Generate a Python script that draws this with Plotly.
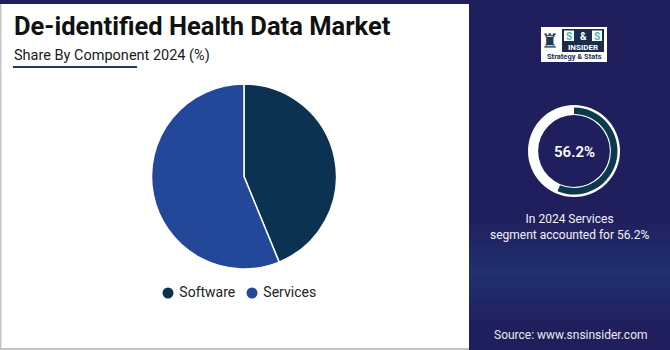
import plotly.graph_objects as go

# Market share by component, 2024 (%)
components = ["Software", "Services"]
shares = [43.8, 56.2]
component_colors = ["#0C3252", "#23489A"]

highlight_label = "Services"
highlight_value = 56.2

title_text = "De-identified Health Data Market"
subtitle_text = "Share By Component 2024 (%)"
source_text = "Source: www.snsinsider.com"

W, H = 670, 350


def px(x):
    return x / W


def py(y):
    return 1 - y / H


def circle_domain(cx, cy, r):
    return dict(x=[px(cx - r), px(cx + r)], y=[py(cy + r), py(cy - r)])


NAVY = "#1F1F5D"
FONT = "Roboto"

fig = go.Figure()

# Main pie: share by component
fig.add_trace(go.Pie(
    labels=components,
    values=shares,
    sort=False,
    direction="clockwise",
    rotation=0,
    marker=dict(colors=component_colors, line=dict(color="white", width=1.5)),
    textinfo="none",
    hoverinfo="label+percent",
    showlegend=False,
    domain=circle_domain(244, 176.5, 92.5),
))

# Key below the pie: round markers with labels, laid out on a pixel-scaled overlay axis
key_x = [168, 252]
key_y = [293, 293]
fig.add_trace(go.Scatter(
    x=key_x, y=key_y, mode="markers+text",
    text=[" " + c for c in components],
    textposition="middle right",
    textfont=dict(family=FONT, size=14, color="#222222"),
    marker=dict(symbol="circle", size=11, color=component_colors),
    hoverinfo="skip",
    showlegend=False,
    cliponaxis=False,
))

# Highlight ring on the side panel: white track
fig.add_trace(go.Pie(
    values=[100],
    marker=dict(colors=["white"], line=dict(width=0)),
    hole=0.78,
    textinfo="none",
    hoverinfo="skip",
    showlegend=False,
    sort=False,
    domain=circle_domain(574, 151, 46),
))

# Highlight arc for the leading segment
fig.add_trace(go.Pie(
    values=[highlight_value, 100 - highlight_value],
    marker=dict(colors=["#0B394E", "rgba(0,0,0,0)"], line=dict(width=0)),
    hole=0.85,
    textinfo="none",
    hoverinfo="skip",
    showlegend=False,
    sort=False,
    direction="clockwise",
    rotation=0,
    domain=circle_domain(574, 151, 43.5),
))

shapes = [
    # side panel
    dict(type="rect", xref="paper", yref="paper", x0=px(469), x1=1, y0=0, y1=1,
         fillcolor=NAVY, line_width=0, layer="below"),
    # top strip
    dict(type="rect", xref="paper", yref="paper", x0=0, x1=px(469), y0=py(4), y1=1,
         fillcolor=NAVY, line_width=0, layer="below"),
    # left and bottom frame lines
    dict(type="rect", xref="paper", yref="paper", x0=0, x1=px(1.5), y0=py(348), y1=py(4),
         fillcolor="#C4C4C4", line_width=0, layer="below"),
    dict(type="rect", xref="paper", yref="paper", x0=0, x1=px(469), y0=0, y1=py(348),
         fillcolor="#C4C4C4", line_width=0, layer="below"),
    # subtitle underline
    dict(type="line", xref="paper", yref="paper", x0=px(13), x1=px(137), y0=py(67), y1=py(67),
         line=dict(color="#1D3C6E", width=2)),
]

# soft lighter glow in the lower part of the side panel (stacked thin layers)
glow_center, glow_half = 272, 50
n_layers = 16
for i in range(n_layers):
    half = glow_half * (1 - i / n_layers)
    shapes.append(dict(type="rect", xref="paper", yref="paper", x0=px(469), x1=1,
                       y0=py(glow_center + half), y1=py(glow_center - half),
                       fillcolor="#3E68AE", opacity=0.032,
                       line_width=0, layer="below"))

# logo block
shapes += [
    dict(type="rect", xref="paper", yref="paper", x0=px(541), x1=px(607), y0=py(62), y1=py(27),
         fillcolor="white", line_width=0),
    dict(type="rect", xref="paper", yref="paper", x0=px(562), x1=px(604), y0=py(52), y1=py(29),
         fillcolor="#1B2B4B", line_width=0),
    dict(type="rect", xref="paper", yref="paper", x0=px(564), x1=px(574), y0=py(41), y1=py(30.5),
         fillcolor="white", line_width=0),
    dict(type="rect", xref="paper", yref="paper", x0=px(592), x1=px(602), y0=py(41), y1=py(30.5),
         fillcolor="white", line_width=0),
]

annotations = [
    dict(text=f"<b>{title_text}</b>", x=px(12), y=py(26), xanchor="left", yanchor="middle",
         font=dict(family=FONT, size=25.5, color="#111111", weight=900)),
    dict(text=subtitle_text, x=px(12), y=py(55), xanchor="left", yanchor="middle",
         font=dict(family=FONT, size=14.5, color="#1A1A1A")),
    dict(text=f"{highlight_value}%", x=px(574), y=py(152), xanchor="center", yanchor="middle",
         font=dict(family=FONT, size=15, color="white", weight=600)),
    dict(text=f"In 2024 {highlight_label}<br>segment accounted for {highlight_value}%",
         x=px(569), y=py(227), xanchor="center", yanchor="middle", align="center",
         font=dict(family=FONT, size=12, color="#F2F2F8")),
    dict(text=source_text, x=px(650), y=py(335), xanchor="right", yanchor="middle",
         font=dict(family=FONT, size=12, color="#E8E8F2")),
    # logo text
    dict(text="♜", x=px(550), y=py(41), xanchor="center", yanchor="middle",
         font=dict(family="DejaVu Sans", size=20, color="#1B3A55")),
    dict(text="<b>S</b>", x=px(569), y=py(36), xanchor="center", yanchor="middle",
         font=dict(family=FONT, size=10, color="#3FB8BE")),
    dict(text="<b>&</b>", x=px(583), y=py(36), xanchor="center", yanchor="middle",
         font=dict(family=FONT, size=10, color="white")),
    dict(text="<b>S</b>", x=px(597), y=py(36), xanchor="center", yanchor="middle",
         font=dict(family=FONT, size=10, color="#3FB8BE")),
    dict(text="<b>INSIDER</b>", x=px(583), y=py(47), xanchor="center", yanchor="middle",
         font=dict(family=FONT, size=8, color="white")),
    dict(text="<b>Strategy & Stats</b>", x=px(574), y=py(57), xanchor="center", yanchor="middle",
         font=dict(family=FONT, size=7.5, color="#1F2D5A")),
]
for a in annotations:
    a.update(xref="paper", yref="paper", showarrow=False)

fig.update_layout(
    width=W, height=H,
    margin=dict(l=0, r=0, t=0, b=0),
    paper_bgcolor="white",
    plot_bgcolor="rgba(0,0,0,0)",
    xaxis=dict(visible=False, range=[0, W], domain=[0, 1], fixedrange=True),
    yaxis=dict(visible=False, range=[H, 0], domain=[0, 1], fixedrange=True),
    shapes=shapes,
    annotations=annotations,
    showlegend=False,
)

fig.write_html("out.html")
